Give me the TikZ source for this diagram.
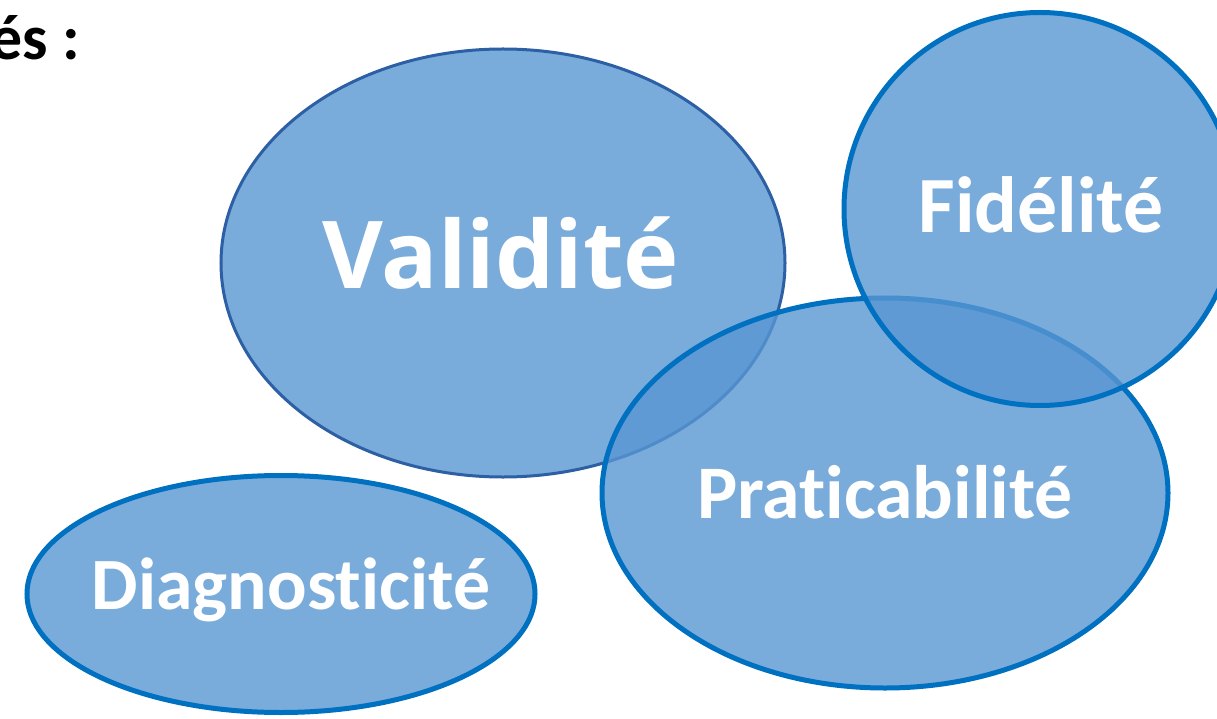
\documentclass[tikz,border=0pt]{standalone}
\usepackage{fontspec}
\setmainfont[Ligatures=NoCommon]{Carlito}
\newfontfamily\valfont[Ligatures=NoCommon]{Open Sans}
\usetikzlibrary{shapes.geometric}
\definecolor{blobfill}{RGB}{88,150,210}
\definecolor{blobline}{RGB}{0,112,192}
\definecolor{valline}{RGB}{45,95,165}
\tikzset{
  blob/.style={ellipse, inner sep=0pt, outer sep=0pt, fill=blobfill, fill opacity=0.8, draw=blobline, line width=5bp},
  lbl/.style={text=white, font=\bfseries, inner sep=0pt},
}
\begin{document}
\begin{tikzpicture}[x=1bp,y=-1bp]
\useasboundingbox (0,0) rectangle (1217,719);
\begin{scope}
\clip (0,0) rectangle (1217,719);
\node[blob, draw=valline, line width=3bp, minimum width=564bp, minimum height=428bp] (val) at (503,263) {};
\node[blob, minimum width=508bp, minimum height=237bp] (dia) at (281,594) {};
\node[blob, minimum width=566bp, minimum height=390bp] (pra) at (885,493) {};
\node[blob, minimum width=392bp, minimum height=393bp] (fid) at (1040,209) {};
\end{scope}
\node[lbl, font=\valfont\bfseries\fontsize{94}{94}\selectfont] (valt) at (501,253) {Validité};
\node[lbl, font=\bfseries\fontsize{74}{74}\selectfont] (diat) at (291,590) {Diagnosticité};
\node[lbl, font=\bfseries\fontsize{76}{76}\selectfont] (prat) at (885,492) {Praticabilité};
\node[lbl, font=\bfseries\fontsize{80}{80}\selectfont] (fidt) at (1041,205) {Fidélité};
\node[inner sep=0pt, anchor=base east, font=\bfseries\fontsize{64}{64}\selectfont] (title) at (80,60) {és :};
\end{tikzpicture}
\end{document}
